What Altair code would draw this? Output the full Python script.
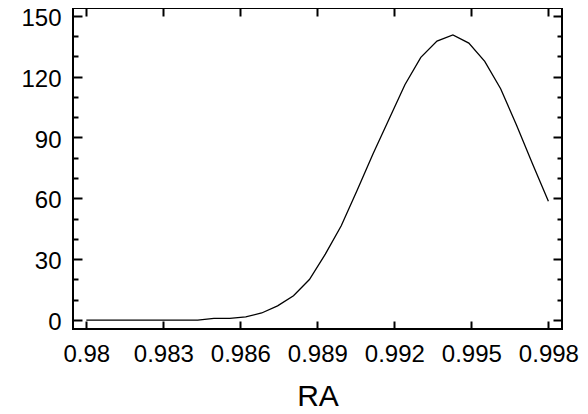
import altair as alt
import pandas as pd

# Data
ra = [0.98, 0.98062, 0.98124, 0.98186, 0.98248, 0.9831, 0.98372, 0.98434,
      0.98497, 0.98559, 0.98621, 0.98683, 0.98745, 0.98807, 0.98869, 0.98931,
      0.98993, 0.99055, 0.99117, 0.99179, 0.99241, 0.99303, 0.99366, 0.99428,
      0.9949, 0.99552, 0.99614, 0.99676, 0.99738, 0.998]
density = [0, 0, 0, 0, 0, 0, 0, 0, 0.8, 0.8, 1.6, 3.5, 7, 12, 20, 32.5,
           46.5, 64, 82, 99, 116, 129.5, 137.5, 140.5, 136.5, 127.5, 114,
           96, 77, 58.5]

x_major = [0.98, 0.983, 0.986, 0.989, 0.992, 0.995, 0.998]
y_major = [0, 30, 60, 90, 120, 150]
y_minor = [10, 20, 40, 50, 70, 80, 100, 110, 130, 140]

df = pd.DataFrame({"RA": ra, "val": density})

FONT = "Liberation Sans"
xs = alt.Scale(domain=[0.97948, 0.99853], nice=False, zero=False)
ys = alt.Scale(domain=[-4.4, 153.8], nice=False, zero=False)

base = alt.Chart(df)

# visible line with label axes
main = base.mark_line(color="black", strokeWidth=1.3).encode(
    x=alt.X("RA:Q", scale=xs,
            axis=alt.Axis(orient="bottom", values=x_major, format="~g",
                          ticks=False, tickSize=0, domain=False, grid=False,
                          labelPadding=13, labelFontSize=24, labelFont=FONT,
                          labelColor="black", title="RA", titleFont=FONT,
                          titleFontSize=30, titleFontWeight="normal",
                          titleColor="black", titlePadding=15)),
    y=alt.Y("val:Q", scale=ys,
            axis=alt.Axis(orient="left", values=y_major, ticks=False,
                          tickSize=0, domain=False, grid=False,
                          labelPadding=12, labelOffset=2.6, labelFontSize=24,
                          labelFont=FONT, labelColor="black", title=None)),
)


def tick_axis(orient, values, size):
    return alt.Axis(orient=orient, values=values, ticks=True, tickSize=size,
                    tickWidth=2, tickColor="black", offset=-size,
                    domain=False, grid=False, labels=False, title=None)


inv = base.mark_line(strokeOpacity=0)

l2 = inv.encode(
    x=alt.X("RA:Q", scale=xs, axis=tick_axis("bottom", x_major, 8)),
    y=alt.Y("val:Q", scale=ys, axis=tick_axis("left", y_major, 9)),
)
l3 = inv.encode(
    x=alt.X("RA:Q", scale=xs, axis=tick_axis("top", x_major, 8)),
    y=alt.Y("val:Q", scale=ys, axis=tick_axis("left", y_minor, 5)),
)
l4 = inv.encode(
    x=alt.X("RA:Q", scale=xs, axis=None),
    y=alt.Y("val:Q", scale=ys, axis=tick_axis("right", y_major, 9)),
)
l5 = inv.encode(
    x=alt.X("RA:Q", scale=xs, axis=None),
    y=alt.Y("val:Q", scale=ys, axis=tick_axis("right", y_minor, 5)),
)

chart = alt.layer(main, l2, l3, l4, l5).resolve_axis(
    x="independent", y="independent"
).properties(
    width=489, height=321,
    padding={"left": 65, "top": 0, "right": 18, "bottom": 77},
    autosize=alt.AutoSizeParams(type="none"),
    background="white",
).configure_view(stroke="black", strokeWidth=2)

chart.save("out.html", embed_options={"renderer": "svg", "actions": False})
